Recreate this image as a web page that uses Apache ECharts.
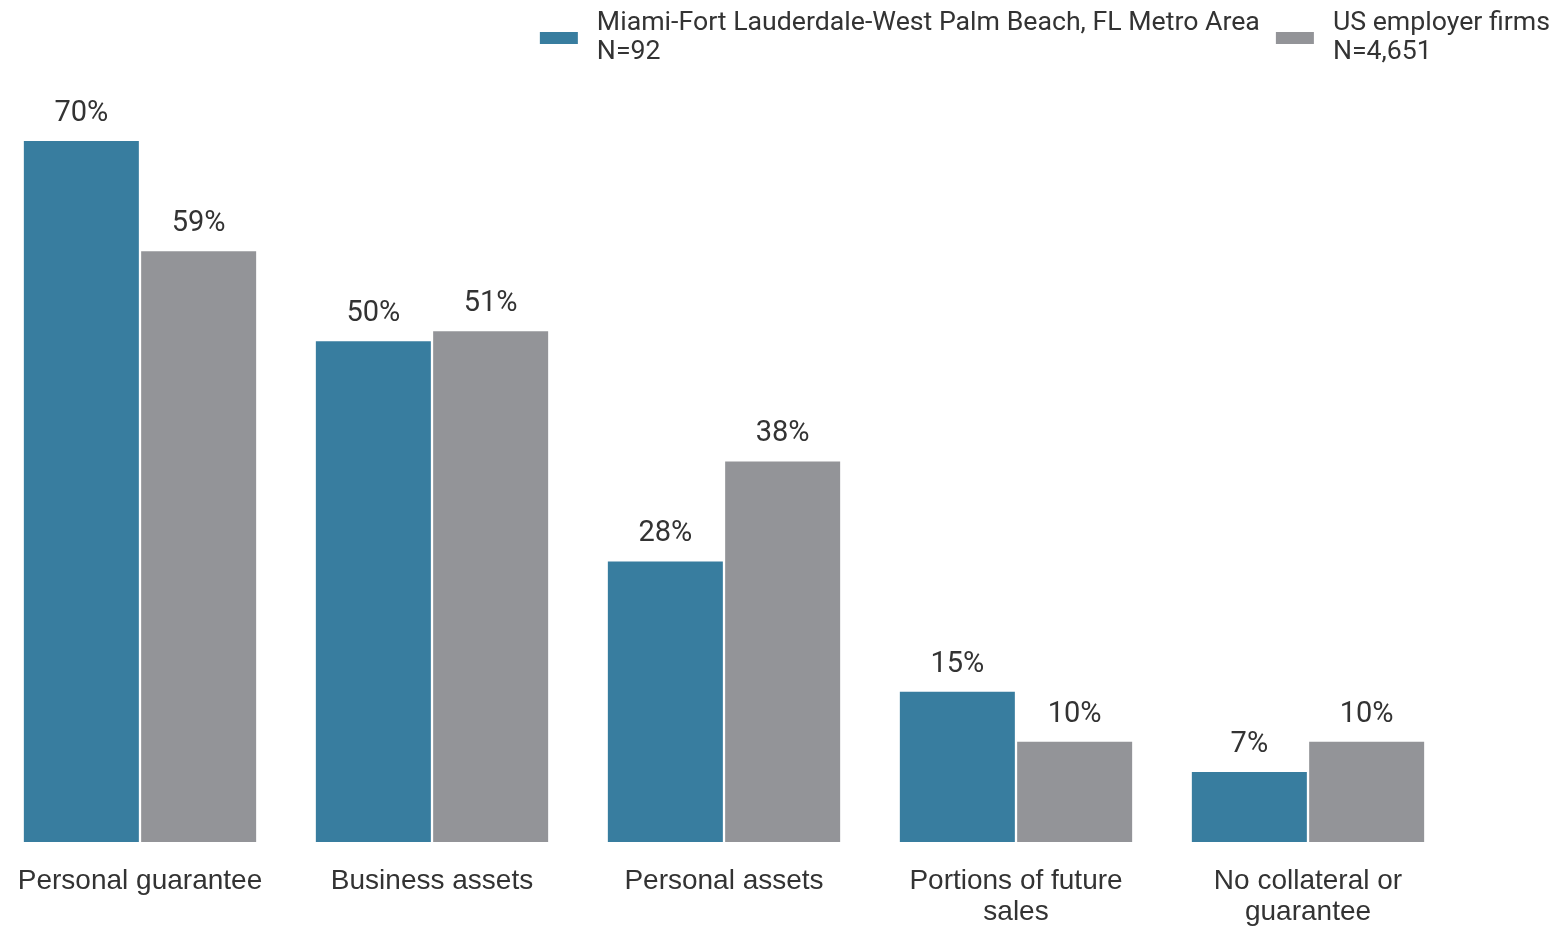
<!DOCTYPE html>
<html>
<head>
<meta charset="utf-8">
<script src="https://cdn.jsdelivr.net/npm/echarts@6/dist/echarts.min.js"></script>
<style>
  html, body { margin: 0; padding: 0; background: #fff; overflow: hidden; }
  /* canvas shifted a little left so the first bar sits near the edge like the original */
  #main { width: 1567px; height: 928px; position: relative; left: -6px; }
</style>
</head>
<body>
<div id="main"></div>
<script>
// data
const categories = ['Personal guarantee', 'Business assets', 'Personal assets', 'Portions of future\nsales', 'No collateral or\nguarantee'];
const miamiValues = [70, 50, 28, 15, 7];
const usValues = [59, 51, 38, 10, 10];
const seriesNames = ['Miami-Fort Lauderdale-West Palm Beach, FL Metro Area\nN=92', 'US employer firms\nN=4,651'];

const chart = echarts.init(document.getElementById('main'));

const labelStyle = {
  show: true,
  position: 'top',
  distance: 13,
  formatter: '{c}%',
  fontFamily: 'Roboto',
  fontSize: 29,
  color: '#333'
};

chart.setOption({
  animation: false,
  legend: {
    top: 4,
    right: 6,
    itemWidth: 38,
    itemHeight: 12,
    itemGap: 16,
    icon: 'rect',
    textStyle: {
      fontFamily: 'Roboto',
      fontSize: 26.7,
      lineHeight: 29,
      color: '#333',
      padding: [0, 0, 0, 14]
    }
  },
  grid: { left: 0, right: 107, top: 141, bottom: 85, containLabel: false },
  xAxis: {
    type: 'category',
    data: categories,
    axisLine: { show: false },
    axisTick: { show: false },
    axisLabel: {
      interval: 0,
      margin: 24,
      fontFamily: 'Liberation Sans',
      fontSize: 28,
      lineHeight: 31,
      color: '#333'
    }
  },
  yAxis: {
    type: 'value',
    min: 0,
    max: 70,
    show: false,
    splitLine: { show: false }
  },
  series: [
    {
      name: seriesNames[0],
      type: 'bar',
      data: miamiValues,
      barWidth: 115,
      barGap: '2%',
      itemStyle: { color: '#387d9f' },
      label: labelStyle
    },
    {
      name: seriesNames[1],
      type: 'bar',
      data: usValues,
      barWidth: 115,
      barGap: '2%',
      itemStyle: { color: '#939498' },
      label: labelStyle
    }
  ]
});
</script>
</body>
</html>
